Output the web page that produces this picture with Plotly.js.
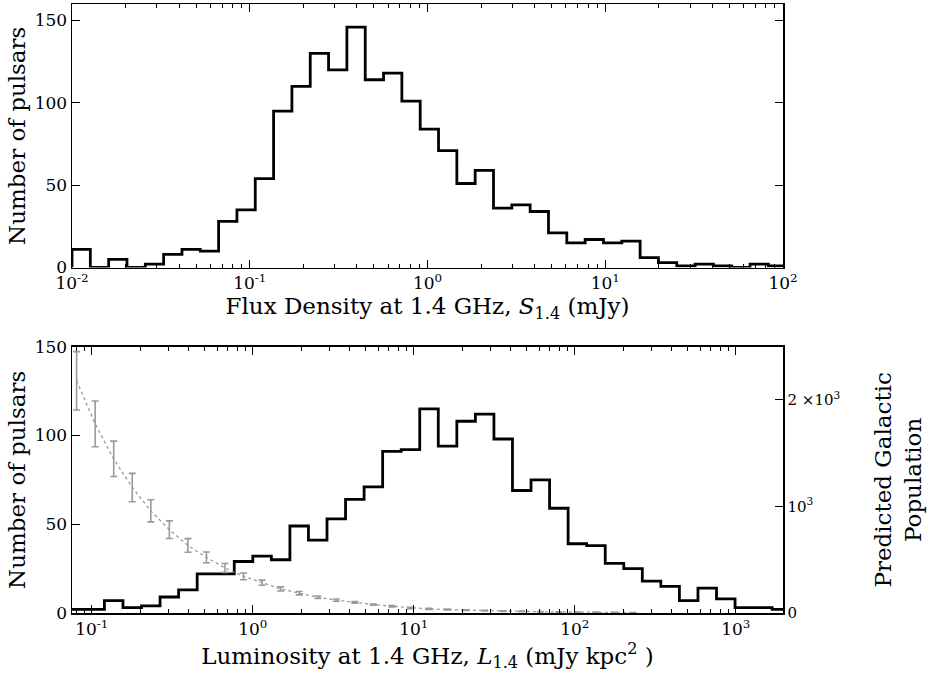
<!DOCTYPE html>
<html>
<head>
<meta charset="utf-8">
<script src="https://cdn.plot.ly/plotly-3.0.1.min.js"></script>
<style>html,body{margin:0;padding:0;background:#fff}</style>
</head>
<body>
<div id="chart" style="width:930px;height:674px"></div>
<script>
// ---- Top panel: flux density histogram (log bins) ----
const fluxLogStart = -2.0;        // log10 of first bin edge (mJy)
const fluxLogWidth = 0.1031;      // bin width in decades
const fluxCounts = [11,0,5,0,2,8,11,10,28,35,54,95,110,130,120,146,114,118,101,84,
                    71,51,59,36,38,34,21,15,17,15,16,6,3,1,2,1,0,2,1];

// ---- Bottom panel: luminosity histogram (log bins) ----
const lumLogStart = -1.152;       // log10 of first bin edge (mJy kpc^2)
const lumLogWidth = 0.1152;
const lumCounts = [2,2,7,3,4,9,13,22,22,29,32,30,49,41,53,64,71,91,92,115,
                   94,108,112,98,69,75,59,39,38,28,25,18,15,7,14,8,3,3,2];

// ---- Predicted Galactic population (right axis), at luminosity bin centres ----
const popValues = [2180,1775,1447,1178,959,782,634,522,423,344,285,226,186,148,121,99,79,63,47,38,
                   32,27,22,18,15,12,10,8,6,5,4];
const popErrors = [274,215,166,133,104,83,64,50,42,32,24,19,16,12,11,8,6,6,6,5,
                   4,4,3,3,3,2,2,2,2,1,1];

// ---- Tick labels ----
const fluxTickVals = [0.01,0.1,1,10,100];
const fluxTickText = ['10<sup>-2</sup>','10<sup>-1</sup>','10<sup>0</sup>','10<sup>1</sup>','10<sup>2</sup>'];
const lumTickVals = [0.1,1,10,100,1000];
const lumTickText = ['10<sup>-1</sup>','10<sup>0</sup>','10<sup>1</sup>','10<sup>2</sup>','10<sup>3</sup>'];
const countTickVals = [0,50,100,150];
const popTickVals = [0,1000,2000];
const popTickText = ['0','10<sup>3</sup>','2 ×10<sup>3</sup>'];

function edges(start, width, n){
  const e=[]; for(let k=0;k<=n;k++) e.push(Math.pow(10,start+width*k)); return e;
}
function stepXY(start,width,counts){
  const e=edges(start,width,counts.length);
  const x=[e[0]], y=[0];
  for(let i=0;i<counts.length;i++){ x.push(e[i]); y.push(counts[i]); }
  x.push(e[counts.length]); y.push(counts[counts.length-1]);
  x.push(e[counts.length]); y.push(0);
  return {x,y};
}
function minorVals(lo,hi){
  const v=[]; for(let d=lo; d<hi; d++){ for(let m=2;m<=9;m++) v.push(m*Math.pow(10,d)); } return v;
}

const fluxStep = stepXY(fluxLogStart,fluxLogWidth,fluxCounts);
const lumStep = stepXY(lumLogStart,lumLogWidth,lumCounts);
const lumEdges = edges(lumLogStart,lumLogWidth,popValues.length);
const popX = popValues.map((_,i)=>Math.sqrt(lumEdges[i]*lumEdges[i+1]));

const traces = [
  {x:fluxStep.x, y:fluxStep.y, xaxis:'x', yaxis:'y', type:'scatter', mode:'lines',
   line:{shape:'hv', color:'black', width:2.8}, hoverinfo:'skip'},
  {x:popX, y:popValues, xaxis:'x2', yaxis:'y3', type:'scatter', mode:'lines',
   line:{color:'#999999', width:1.3, dash:'dot'},
   error_y:{type:'data', array:popErrors, visible:true, color:'#999999', thickness:1.6, width:3.5},
   hoverinfo:'skip'},
  {x:lumStep.x, y:lumStep.y, xaxis:'x2', yaxis:'y2', type:'scatter', mode:'lines',
   line:{shape:'hv', color:'black', width:2.8}, hoverinfo:'skip'}
];

const axisCommon = {showline:true, linecolor:'black', linewidth:1.5, showgrid:false, zeroline:false,
  ticks:'inside', ticklen:8, tickwidth:1, tickcolor:'black', tickfont:{size:17}};

const layout = {
  width:930, height:674,
  margin:{l:72, r:147, t:4, b:61},
  paper_bgcolor:'white', plot_bgcolor:'white', showlegend:false,
  font:{family:'DejaVu Serif', color:'black', size:17},
  xaxis: Object.assign({}, axisCommon, {
    type:'log', range:[-2,2], domain:[0,1], anchor:'y', mirror:'ticks',
    tickmode:'array', tickvals:fluxTickVals, ticktext:fluxTickText,
    minor:{tickmode:'array', tickvals:minorVals(-2,2), ticks:'inside', ticklen:4, tickcolor:'black', tickwidth:1, showgrid:false},
    title:{text:'Flux Density at 1.4 GHz, <i>S</i><sub>1.4</sub> (mJy)', font:{size:23}, standoff:4}
  }),
  yaxis: Object.assign({}, axisCommon, {
    range:[0,160], domain:[0.5673,1], anchor:'x', mirror:'ticks',
    tickmode:'array', tickvals:countTickVals,
    title:{text:'Number of pulsars', font:{size:23}, standoff:2}
  }),
  xaxis2: Object.assign({}, axisCommon, {
    type:'log', range:[-1.123,3.293], domain:[0,1], anchor:'y2', mirror:'ticks',
    tickmode:'array', tickvals:lumTickVals, ticktext:lumTickText,
    minor:{tickmode:'array', tickvals:minorVals(-2,4), ticks:'inside', ticklen:4, tickcolor:'black', tickwidth:1, showgrid:false},
    title:{text:'Luminosity at 1.4 GHz, <i>L</i><sub>1.4</sub> (mJy kpc<sup>2</sup> )', font:{size:23}, standoff:6}
  }),
  yaxis2: Object.assign({}, axisCommon, {
    range:[0,150], domain:[0,0.4373], anchor:'x2',
    tickmode:'array', tickvals:countTickVals,
    title:{text:'Number of pulsars', font:{size:23}, standoff:2}
  }),
  yaxis3: Object.assign({}, axisCommon, {
    range:[0,2500], overlaying:'y2', side:'right', anchor:'x2',
    tickmode:'array', tickvals:popTickVals, ticktext:popTickText, tickfont:{size:15},
    title:{text:'Predicted Galactic<br>Population', font:{size:23}, standoff:36}
  })
};

Plotly.newPlot('chart', traces, layout, {staticPlot:true, displayModeBar:false});
</script>
</body>
</html>
